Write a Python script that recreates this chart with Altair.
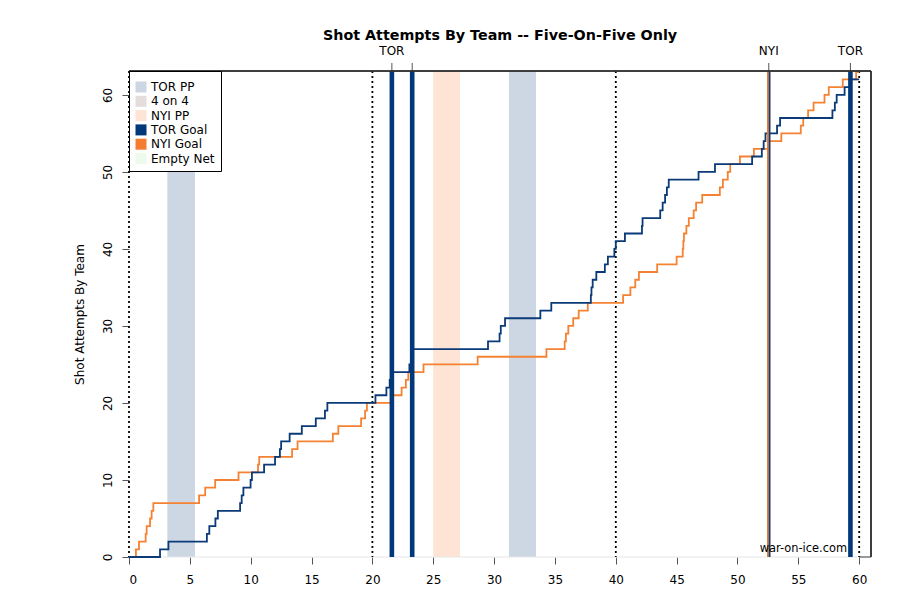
import altair as alt
import pandas as pd

# ---------------- data ----------------
tor_shot_times = [2.55, 3.24, 6.4, 6.6, 7.1, 7.3, 9.13, 9.26, 9.4, 9.99,
                  10.1, 11.1, 12.0, 12.4, 12.5, 13.2, 14.2, 15.35, 16.1, 16.3,
                  20.25, 21.15, 21.42, 21.6, 23.04, 23.2, 23.27, 29.5, 30.45, 30.55,
                  30.9, 33.8, 34.7, 37.95, 38.0, 38.1, 38.4, 39.1, 39.35, 39.88,
                  40.0, 40.75, 42.15, 42.2, 43.65, 43.85, 44.05, 44.2, 44.35, 46.8,
                  48.15, 51.2, 52.0, 52.15, 52.3, 53.25, 53.5, 57.8, 58.0, 58.15,
                  58.8, 59.28]
nyi_shot_times = [0.57, 0.82, 1.37, 1.45, 1.73, 1.86, 2.0, 5.76, 6.26, 7.08,
                  9.0, 10.6, 10.7, 13.4, 13.85, 16.75, 17.2, 19.07, 19.4, 19.55,
                  21.55, 22.4, 22.75, 22.95, 24.2, 28.65, 34.3, 35.8, 35.9, 36.1,
                  36.5, 36.95, 37.7, 40.6, 41.2, 41.6, 41.9, 43.4, 45.0, 45.5,
                  45.55, 45.6, 45.8, 46.0, 46.4, 46.6, 47.1, 48.55, 48.8, 49.2,
                  49.4, 50.2, 51.35, 52.57, 53.6, 55.2, 55.4, 55.8, 56.25, 57.15,
                  57.5, 58.65, 59.75]
game_end = 60.0

band_start = [3.15, 25.0, 31.22]
band_end = [5.42, 27.2, 33.44]
band_type = ["TOR PP", "NYI PP", "TOR PP"]

goal_times = [21.6, 23.27, 52.57, 59.28]
goal_teams = ["TOR", "TOR", "NYI", "TOR"]
goal_labels = ["TOR", "", "NYI", "TOR"]

period_lines = [0, 20, 40, 60]

legend_items = ["TOR PP", "4 on 4", "NYI PP", "TOR Goal", "NYI Goal", "Empty Net"]
legend_colors = ["#ccd7e3", "#e5dcdc", "#fde4d5", "#00387a", "#f47d30", "#ecfbec"]

x_ticks = list(range(0, 61, 5))
y_ticks = list(range(0, 61, 10))

TOR_COLOR = "#0b3a78"
NYI_COLOR = "#f58233"
FONT = "DejaVu Sans"

# ---------------- build tables ----------------
rows = []
for team, times in (("TOR", tor_shot_times), ("NYI", nyi_shot_times)):
    rows.append({"team": team, "t": 0.0, "n": 0})
    for i, t in enumerate(times):
        rows.append({"team": team, "t": t, "n": i + 1})
    rows.append({"team": team, "t": game_end, "n": len(times)})
steps = pd.DataFrame(rows)

bands = pd.DataFrame({"start": band_start, "end": band_end, "type": band_type})
goals = pd.DataFrame({"t": goal_times, "team": goal_teams, "label": goal_labels})
periods = pd.DataFrame({"t": period_lines})

W, H = 742, 486
X_MAX, Y_MAX = 60.97, 63.1

x_scale = alt.Scale(domain=[0, X_MAX], nice=False, zero=False)
y_scale = alt.Scale(domain=[0, Y_MAX], nice=False, zero=False)
x_axis = alt.Axis(values=x_ticks, tickSize=7, labelPadding=10, domain=False, grid=False,
                  title=None, tickColor="#555555", labelColor="black",
                  labelFont=FONT, labelFontSize=12)
y_axis = alt.Axis(values=y_ticks, tickSize=7, labelPadding=8, domain=False, grid=False,
                  labelAngle=270, labelAlign="center", labelBaseline="bottom",
                  tickColor="#555555", labelColor="black", labelFont=FONT, labelFontSize=12,
                  title="Shot Attempts By Team", titleX=-43, titleY=H / 2, titleAngle=270,
                  titleAlign="center", titleBaseline="bottom", titleFont=FONT,
                  titleFontSize=12, titleFontWeight="normal", titleColor="black")


def X(field):
    return alt.X(field, type="quantitative", scale=x_scale, axis=x_axis)


band_layer = alt.Chart(bands).mark_rect().encode(
    x=X("start"), x2="end",
    y=alt.value(0), y2=alt.value(H),
    color=alt.Color("type:N",
                    scale=alt.Scale(domain=legend_items, range=legend_colors),
                    legend=alt.Legend(title=" ", titleFontSize=4, titlePadding=0,
                                      orient="none", legendX=0, legendY=0,
                                      symbolType="square", symbolSize=121,
                                      symbolStrokeWidth=0, labelFont=FONT,
                                      labelFontSize=12, labelColor="black",
                                      labelOffset=4, rowPadding=2.3, padding=6,
                                      strokeColor="black", fillColor="white",
                                      cornerRadius=0)),
)

period_layer = alt.Chart(periods).mark_rule(color="black", strokeWidth=1.8,
                                            strokeDash=[2, 3]).encode(
    x=X("t"), y=alt.value(0), y2=alt.value(H))


def step_layer(team, color):
    return alt.Chart(steps).transform_filter(alt.datum.team == team).mark_line(
        interpolate="step-after", color=color, strokeWidth=1.8).encode(
        x=X("t"), y=alt.Y("n:Q", scale=y_scale, axis=y_axis))


nyi_line = step_layer("NYI", NYI_COLOR)
tor_line = step_layer("TOR", TOR_COLOR)

tor_goals = alt.Chart(goals).transform_filter(alt.datum.team == "TOR").mark_rule(
    color="#00387a", strokeWidth=4.6).encode(x=X("t"), y=alt.value(0), y2=alt.value(H))
nyi_goal_under = alt.Chart(goals).transform_filter(alt.datum.team == "NYI").mark_rule(
    color=TOR_COLOR, strokeWidth=3.4).encode(x=X("t"), y=alt.value(0), y2=alt.value(H))
nyi_goal = alt.Chart(goals).transform_filter(alt.datum.team == "NYI").mark_rule(
    color=NYI_COLOR, strokeWidth=1.7, xOffset=-0.85).encode(
    x=X("t"), y=alt.value(0), y2=alt.value(H))

goal_ticks = alt.Chart(goals).mark_rule(color="#555555", strokeWidth=1).encode(
    x=X("t"), y=alt.value(-8), y2=alt.value(0))
goal_text = alt.Chart(goals).mark_text(font=FONT, fontSize=12, color="black",
                                       baseline="middle", align="center").encode(
    x=X("t"), y=alt.value(-20), text="label:N")

frame_top = alt.Chart(periods).mark_rule(color="#333333", strokeWidth=1).encode(
    x=alt.value(0), x2=alt.value(W), y=alt.value(0))
frame_right = alt.Chart(periods).mark_rule(color="#333333", strokeWidth=1).encode(
    x=alt.value(W), y=alt.value(0), y2=alt.value(H))
frame_bottom = alt.Chart(periods).transform_filter(alt.datum.t == 60).mark_rule(
    color="#333333", strokeWidth=1).encode(x=X("t"), x2=alt.value(W), y=alt.value(H))
baseline = alt.Chart(periods).transform_filter(alt.datum.t == 60).mark_rule(
    color="#e6e6e6", strokeWidth=1).encode(x=X("t"), x2=alt.value(0), y=alt.value(H))

watermark = alt.Chart(periods).transform_filter(alt.datum.t == 0).mark_text(
    text="war-on-ice.com", font=FONT, fontSize=11.4, color="black",
    align="right", baseline="alphabetic").encode(x=alt.value(718), y=alt.value(481))

chart = alt.layer(
    band_layer, baseline, period_layer, nyi_line, tor_line,
    nyi_goal_under, nyi_goal, tor_goals, goal_ticks, goal_text,
    frame_top, frame_right, frame_bottom, watermark,
).properties(
    width=W, height=H,
    title=alt.TitleParams("Shot Attempts By Team -- Five-On-Five Only", font=FONT,
                          fontSize=14.3, fontWeight="bold", color="black",
                          anchor="middle", frame="group", offset=2),
    autosize=alt.AutoSizeParams(type="none"),
    padding={"left": 121, "top": 63, "right": 21, "bottom": 30},
).configure_view(stroke="transparent")

chart.save("out.html", embed_options={"renderer": "svg", "actions": False})
